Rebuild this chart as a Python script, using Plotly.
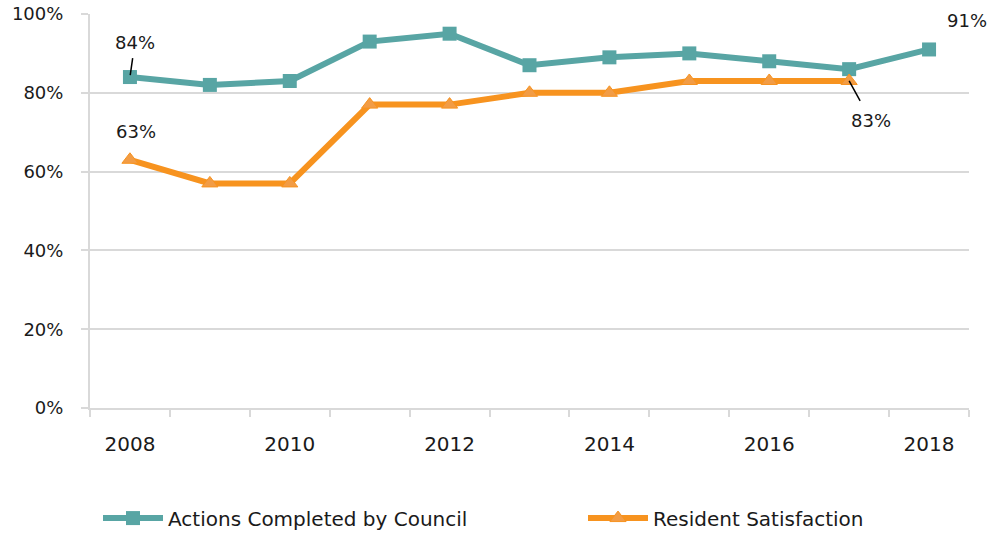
import plotly.graph_objects as go

years = [2008, 2009, 2010, 2011, 2012, 2013, 2014, 2015, 2016, 2017, 2018]
actions_completed = [84, 82, 83, 93, 95, 87, 89, 90, 88, 86, 91]
resident_satisfaction = [63, 57, 57, 77, 77, 80, 80, 83, 83, 83, None]
year_labels = ["2008", "2010", "2012", "2014", "2016", "2018"]
y_ticks = [0, 20, 40, 60, 80, 100]

TEAL = "#58A5A4"
ORANGE = "#F7931F"
GRID = "#D9D9D9"
FONT = "DejaVu Sans"
TEXT = "#1a1a1a"

fig = go.Figure()
fig.add_trace(go.Scatter(
    x=years, y=actions_completed, name="Actions Completed by Council",
    mode="lines+markers", legend="legend",
    line=dict(color=TEAL, width=6),
    marker=dict(symbol="square", size=14, color=TEAL),
))
fig.add_trace(go.Scatter(
    x=years, y=resident_satisfaction, name="Resident Satisfaction",
    mode="lines+markers", legend="legend2",
    line=dict(color=ORANGE, width=6),
    marker=dict(symbol="triangle-up", size=14, color="#F29C45",
                line=dict(color=ORANGE, width=1)),
))

label_font = dict(family=FONT, size=18, color=TEXT)
# First and last values called out
fig.add_annotation(x=years[0], y=actions_completed[0], text=f"{actions_completed[0]}%",
                   showarrow=True, arrowhead=0, arrowwidth=1.5, arrowcolor="#000",
                   ax=5, ay=-35, font=label_font, standoff=2, borderpad=5)
fig.add_annotation(x=years[0], y=resident_satisfaction[0], text=f"{resident_satisfaction[0]}%",
                   showarrow=False, xshift=6, yshift=28, font=label_font)
fig.add_annotation(x=years[-1], y=actions_completed[-1], text=f"{actions_completed[-1]}%",
                   showarrow=False, xshift=38, yshift=29, font=label_font)
fig.add_annotation(x=years[9], y=resident_satisfaction[9], text=f"{resident_satisfaction[9]}%",
                   showarrow=True, arrowhead=0, arrowwidth=1.5, arrowcolor="#000",
                   ax=22, ay=40, font=label_font, standoff=0, borderpad=9)

legend_common = dict(orientation="h", xref="container", yref="container",
                     xanchor="left", yanchor="middle", y=0.028,
                     font=dict(family=FONT, size=20, color=TEXT),
                     itemwidth=60, bgcolor="rgba(0,0,0,0)")

fig.update_layout(
    width=990, height=533,
    margin=dict(l=90, r=21, t=14, b=125, autoexpand=False),
    paper_bgcolor="white", plot_bgcolor="white",
    font=dict(family=FONT, size=16, color=TEXT),
    showlegend=True,
    legend=dict(x=98 / 990, **legend_common),
    legend2=dict(x=583 / 990, **legend_common),
)
fig.update_xaxes(
    range=[2007.5, 2018.5],
    tickvals=[int(v) for v in year_labels], ticktext=year_labels,
    ticks="", showgrid=False, zeroline=False,
    showline=True, linecolor=GRID, linewidth=2,
    ticklabelstandoff=17,
    tickfont=dict(family=FONT, size=20, color=TEXT),
    minor=dict(tick0=2007.5, dtick=1, ticks="outside", ticklen=7,
               tickcolor=GRID, tickwidth=2, showgrid=False),
)
fig.update_yaxes(
    range=[0, 100], tickvals=y_ticks, ticktext=[f"{v}%" for v in y_ticks],
    showgrid=True, gridcolor=GRID, gridwidth=2, zeroline=False,
    showline=True, linecolor=GRID, linewidth=2,
    ticks="outside", ticklen=7, tickcolor=GRID, tickwidth=2,
    ticklabelstandoff=14,
    tickfont=dict(family=FONT, size=18, color=TEXT),
)

fig.write_html("out.html")
